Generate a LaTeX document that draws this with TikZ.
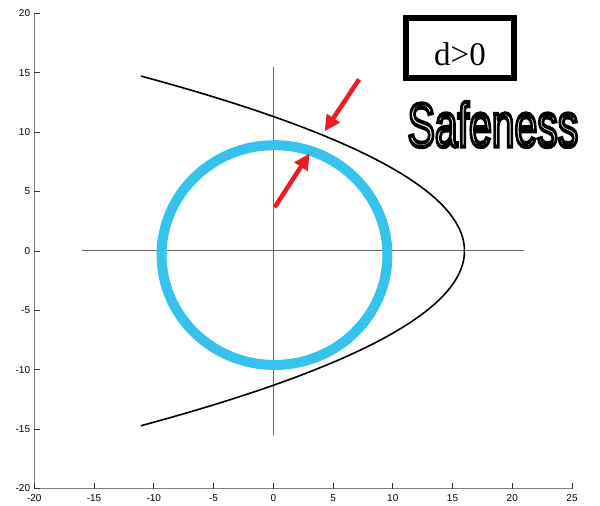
\documentclass[tikz,border=0pt]{standalone}
\usepackage{fontspec}
\setmainfont{Liberation Serif}
\setsansfont{Liberation Sans}
\usetikzlibrary{arrows.meta, positioning, calc}
\definecolor{mRed}{HTML}{ED1C24}
\definecolor{mCyan}{HTML}{35C3EE}
\definecolor{mGray}{HTML}{808080}
\newcommand{\outlined}[1]{\special{pdf:literal direct 2 Tr 4 w 0 0 0 RG}#1\special{pdf:literal direct 0 Tr}}
\tikzset{
  tickLabel/.style={font=\sffamily\fontsize{10bp}{12bp}\selectfont, inner sep=0pt},
  redArrow/.style={mRed, line width=4.5bp, -{Triangle[length=16bp, width=15bp]}},
  dBox/.style={draw, line width=6bp, minimum width=108bp, minimum height=60bp, inner sep=0pt},
  safeText/.style={font=\sffamily\fontsize{62bp}{62bp}\selectfont, inner sep=0pt, xscale=0.66}
}

\begin{document}
\begin{tikzpicture}[x=11.95bp, y=11.88bp]
    \useasboundingbox (-22.87,-21.47) rectangle (27.34,21.12);
    % axes box
    \draw[mGray, line width=1.3bp] (-20,20) -- (-20,-20) -- (25,-20);
    \foreach \x [count=\i] in {-20,-15,...,25} {
      \draw[black!80, line width=0.8bp] (\x,-20) -- ++(0,0.45);
      \node[tickLabel, below=6bp] (xTick\i) at (\x,-20) {\x};
    }
    \foreach \y [count=\i] in {-20,-15,...,20} {
      \draw[black!80, line width=0.8bp] (-20,\y) -- ++(0.45,0);
      \node[tickLabel, left=4bp] (yTick\i) at (-20,\y) {\y};
    }
    % cross lines
    \draw[black!60, line width=1bp] (-16,0) -- (21,0);
    \draw[black!60, line width=1bp] (0,-15.5) -- (0,15.5);
    % circle and parabola
    \draw[mCyan, line width=10bp] (0.1,-0.35) ellipse [x radius=9.45, y radius=9.25];
    \draw[black, line width=1.6bp, domain=-14.72:14.72, samples=90, variable=\t]
      plot ({16-\t*\t/8}, \t);
    % arrows
    \coordinate (outerFrom) at (7.18,14.44);
    \coordinate (outerTo) at (4.29,10.06);
    \coordinate (innerFrom) at (0.11,3.66);
    \coordinate (innerTo) at (3.04,8.21);
    \draw[redArrow] (outerFrom) -- (outerTo);
    \draw[redArrow] (innerFrom) -- (innerTo);
    % labels
    \node[dBox] (distBox) at (15.62,17.08) {};
    \node[font=\fontsize{33bp}{33bp}\selectfont, inner sep=0pt] (distText)
      at ([yshift=-6bp]distBox.center) {d>0};
    \node[safeText, text=white] (safeness) at (18.38,10.64) {\outlined{Safeness}};
\end{tikzpicture}
\end{document}
